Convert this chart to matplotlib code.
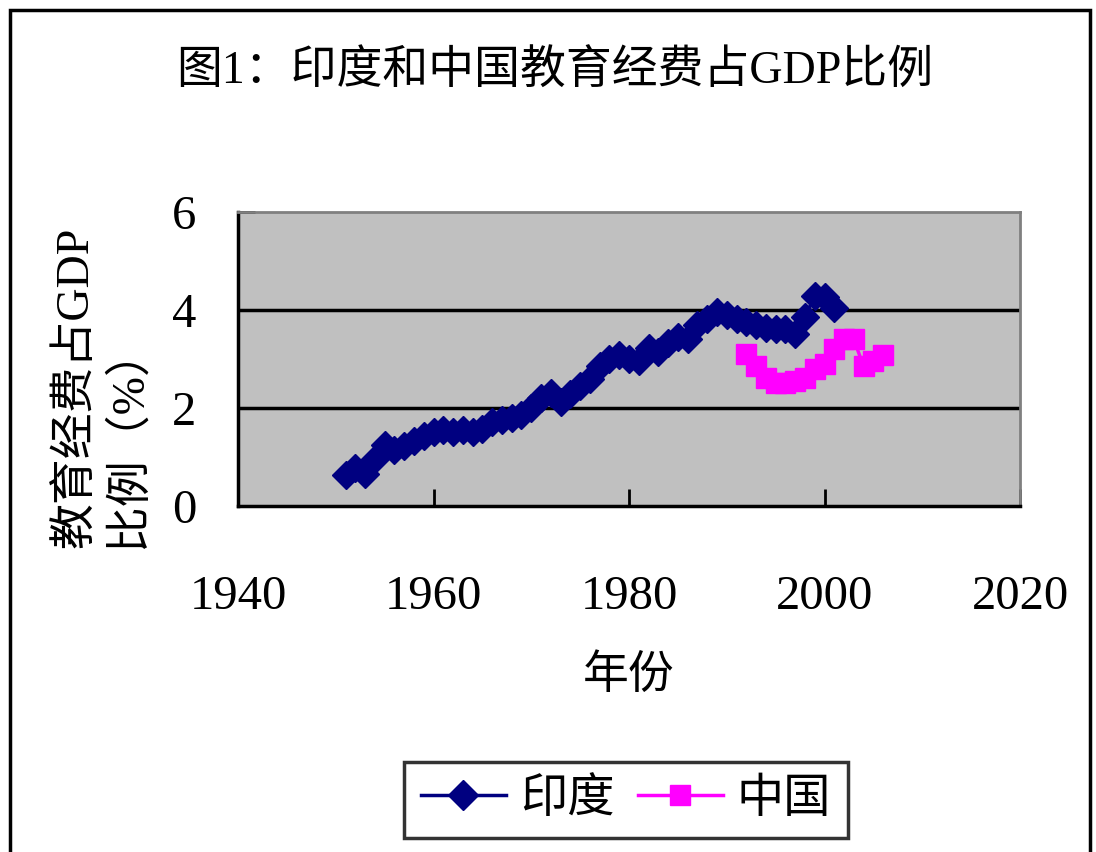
import matplotlib.pyplot as plt
from matplotlib.patches import Rectangle
from matplotlib.lines import Line2D

# Data
india_years = list(range(1951, 2002))
india_values = [0.64, 0.78, 0.66, 0.95, 1.25, 1.15, 1.22, 1.32, 1.42, 1.52,
                1.55, 1.52, 1.55, 1.52, 1.58, 1.72, 1.75, 1.80, 1.85, 2.00,
                2.20, 2.30, 2.12, 2.28, 2.45, 2.60, 2.85, 3.00, 3.08, 3.00,
                2.95, 3.22, 3.15, 3.32, 3.45, 3.40, 3.70, 3.82, 3.96, 3.90,
                3.82, 3.76, 3.70, 3.64, 3.62, 3.62, 3.52, 3.86, 4.28, 4.26,
                4.04]
china_years = list(range(1992, 2007))
china_values = [3.10, 2.86, 2.62, 2.52, 2.52, 2.56, 2.62, 2.80, 2.90, 3.20,
                3.40, 3.40, 2.85, 2.95, 3.08]

x_ticks = [1940, 1960, 1980, 2000, 2020]
y_ticks = [0, 2, 4, 6]

FONT = ['Liberation Serif', 'Noto Sans CJK SC', 'DejaVu Sans']
plt.rcParams['font.family'] = FONT

fig = plt.figure(figsize=(10.96, 8.52), dpi=100)
fig.patch.set_facecolor('white')

# outer chart frame
fig.patches.append(Rectangle((10 / 1096, -0.05), 1080 / 1096, 0.05 + 842 / 852,
                             transform=fig.transFigure, fill=False,
                             edgecolor='black', linewidth=2.5))

ax = fig.add_axes([238 / 1096, 1 - 506 / 852, 782 / 1096, 294 / 852])
ax.set_facecolor('#C0C0C0')

ax.plot(india_years, india_values, color='#000080', marker='D', markersize=14,
        linewidth=2.5, label='印度', zorder=3)
ax.plot(china_years, china_values, color='#FF00FF', marker='s', markersize=14,
        linewidth=2.5, label='中国', zorder=3)

ax.set_xlim(1940, 2020)
ax.set_ylim(0, 6)
ax.set_xticks(x_ticks)
ax.set_yticks(y_ticks)
for y in [2, 4]:
    ax.axhline(y, color='black', linewidth=2.5, zorder=1)

for side in ['top', 'right']:
    ax.spines[side].set_color('#808080')
    ax.spines[side].set_linewidth(2)
for side in ['left', 'bottom']:
    ax.spines[side].set_color('black')
    ax.spines[side].set_linewidth(2.5)

ax.tick_params(direction='in', length=12, width=2, labelsize=35)
ax.tick_params(axis='x', pad=50)
ax.tick_params(axis='y', pad=30)

ax.set_xlabel('年份', fontsize=33, labelpad=26)
fig.text(555 / 1096, 1 - 72 / 852, '图1：印度和中国教育经费占GDP比例',
         fontsize=33, ha='center', va='center')
fig.text(103 / 1096, 1 - 548 / 852, '教育经费占GDP\n比例（%）', fontsize=33,
         rotation=90, ha='center', va='bottom', multialignment='left',
         linespacing=1.25)

handles = [Line2D([], [], color='#000080', marker='D', markersize=15, linewidth=2.5),
           Line2D([], [], color='#FF00FF', marker='s', markersize=15, linewidth=2.5)]
leg = fig.legend(handles, ['印度', '中国'], loc='center',
                 bbox_to_anchor=(626 / 1096, 1 - 800 / 852), ncol=2,
                 fontsize=34, frameon=True, fancybox=False, handlelength=1.8,
                 columnspacing=0.5, handletextpad=0.3, borderpad=0.35,
                 borderaxespad=0)
leg.get_frame().set_edgecolor('black')
leg.get_frame().set_linewidth(2.5)

fig.savefig('out.png', dpi=100)
